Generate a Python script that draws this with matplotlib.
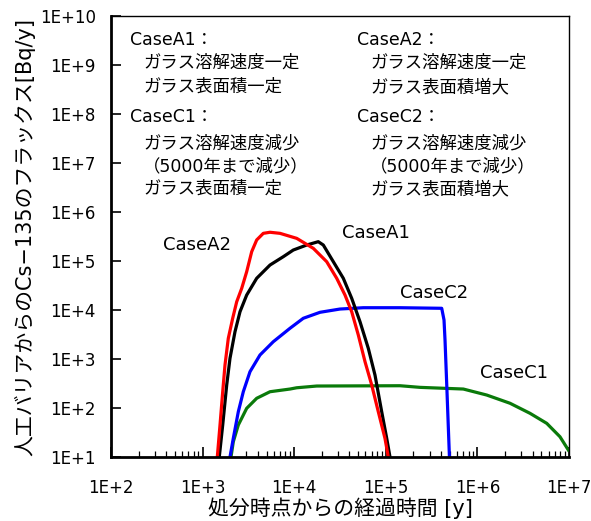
import numpy as np
import matplotlib
matplotlib.use("Agg")
import matplotlib.pyplot as plt

plt.rcParams['font.family'] = ['DejaVu Sans', 'Noto Sans CJK JP']

# data (time [y], flux [Bq/y])
a2_t = [1447, 1549, 1658, 1756, 1908, 2131, 2357, 2673, 3029, 3436, 3896, 4599,
        5443, 6998, 10650, 16160, 22640, 29110, 35860, 42430, 50100, 59300,
        70200, 82800, 97900, 106500]
a2_f = [10, 45, 215, 755, 2640, 6780, 1.475e4, 2.77e4, 6.05e4, 1.55e5, 2.69e5,
        3.67e5, 3.86e5, 3.67e5, 2.90e5, 1.815e5, 9.68e4, 4.44e4, 2.02e4, 9230,
        3090, 881, 294, 84, 24.1, 10]

a1_t = [1521, 1658, 1833, 1991, 2258, 2561, 3029, 3896, 5443, 7603, 9772, 13690,
        18320, 20780, 26730, 34360, 42430, 52280, 64400, 76200, 90200, 102300,
        111100]
a1_f = [10, 45, 294, 1033, 3610, 9230, 2.02e4, 4.44e4, 8.28e4, 1.225e5, 1.675e5,
        2.12e5, 2.48e5, 2.12e5, 9.68e4, 4.44e4, 1.735e4, 5770, 1652, 471, 84,
        24.1, 10]

c2_t = [1991, 2164, 2454, 2782, 3292, 4232, 5913, 8999, 12570, 19130, 31620,
        56800, 142900, 407700, 432000, 443000, 462000, 495000]
c2_f = [10, 24.1, 84, 215, 551, 1208, 2256, 4240, 6780, 8980, 1.047e4, 1.114e4,
        1.114e4, 1.084e4, 6250, 2440, 319, 10]

c1_t = [2042, 2164, 2454, 3029, 3896, 5443, 8999, 10650, 17610, 142900, 236300,
        702000, 1.264e6, 2.27e6, 3.75e6, 5.71e6, 7.97e6, 9.83e6]
c1_f = [10, 20.5, 45, 98.6, 158, 215, 244, 259, 281, 285, 264, 244, 184, 125,
        78, 48.7, 25.9, 13.9]

x_ticks = [1e2, 1e3, 1e4, 1e5, 1e6, 1e7]
x_labels = ['1E+2', '1E+3', '1E+4', '1E+5', '1E+6', '1E+7']
y_ticks = [10.0 ** k for k in range(1, 11)]
y_labels = ['1E+%d' % k for k in range(1, 11)]

fig = plt.figure(figsize=(5.91, 5.21), dpi=100)
ax = fig.add_axes([0.1878, 0.1228, 0.775, 0.8465])

ax.plot(c1_t, c1_f, color='#0a7a0a', lw=2.3)
ax.plot(c2_t, c2_f, color='#0000ff', lw=2.3)
ax.plot(a1_t, a1_f, color='black', lw=2.3)
ax.plot(a2_t, a2_f, color='#ff0000', lw=2.3)

ax.set_xscale('log')
ax.set_yscale('log')
ax.set_xlim(1e2, 1e7)
ax.set_ylim(1e1, 1e10)
ax.set_xticks(x_ticks)
ax.set_xticklabels(x_labels)
ax.set_yticks(y_ticks)
ax.set_yticklabels(y_labels)
ax.tick_params(which='both', direction='in', top=False, right=False, labelsize=12)
ax.tick_params(axis='y', which='major', length=7, width=1.2, pad=11)
ax.tick_params(axis='x', which='major', length=7, width=1.2, pad=16)
ax.tick_params(which='minor', length=4, width=0.9)

for s in ['left', 'bottom']:
    ax.spines[s].set_linewidth(2.0)
for s in ['top', 'right']:
    ax.spines[s].set_linewidth(1.0)

ax.set_xlabel('処分時点からの経過時間 [y]', fontsize=15, va='center')
ax.set_ylabel('人工バリアからのCs−135のフラックス[Bq/y]', fontsize=15, va='center')
ax.xaxis.set_label_coords(0.5, -0.116)
ax.yaxis.set_label_coords(-0.188, 0.5)

# description texts
jp = ['DejaVu Sans', 'Noto Sans CJK JP']
left_a = ['CaseA1：', 'ガラス溶解速度一定', 'ガラス表面積一定']
left_c = ['CaseC1：', 'ガラス溶解速度減少', '（5000年まで減少）', 'ガラス表面積一定']
right_a = ['CaseA2：', 'ガラス溶解速度一定', 'ガラス表面積増大']
right_c = ['CaseC2：', 'ガラス溶解速度減少', '（5000年まで減少）', 'ガラス表面積増大']


def put_lines(lines, x_px, y_px_list):
    for i, (s, y) in enumerate(zip(lines, y_px_list)):
        xx = x_px if i == 0 else x_px + 13
        fig.text(xx / 591, 1 - y / 521, s, fontsize=12.5, family=jp,
                 va='center', ha='left')


put_lines(left_a, 130, [40, 63, 87])
put_lines(left_c, 130, [117, 143, 166, 189])
put_lines(right_a, 357, [40, 63, 87])
put_lines(right_c, 357, [117, 143, 166, 189])

# curve labels
for name, x_px, y_px in [('CaseA2', 163, 245), ('CaseA1', 342, 233),
                         ('CaseC2', 400, 293), ('CaseC1', 480, 373)]:
    fig.text(x_px / 591, 1 - y_px / 521, name, fontsize=13, va='center', ha='left')

fig.savefig('out.png', dpi=100)
